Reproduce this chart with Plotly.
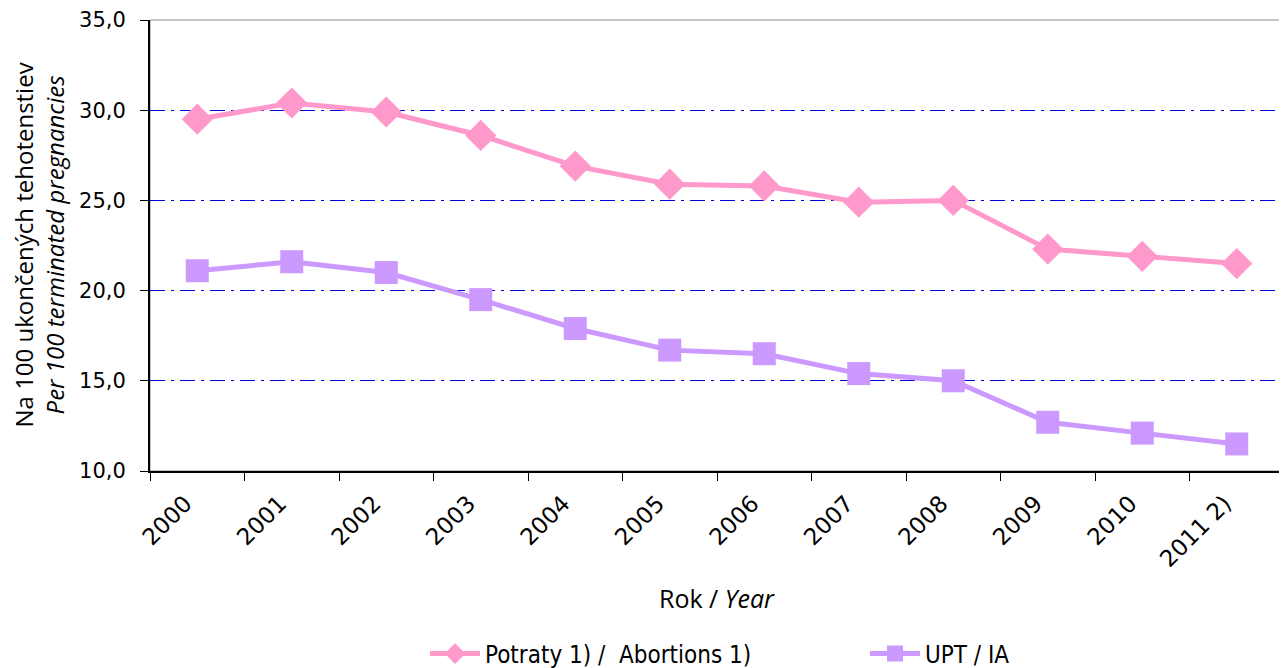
import plotly.graph_objects as go

years = ["2000", "2001", "2002", "2003", "2004", "2005", "2006", "2007", "2008", "2009", "2010", "2011 2)"]
abortions = [29.5, 30.4, 29.9, 28.6, 26.9, 25.9, 25.8, 24.9, 25.0, 22.3, 21.9, 21.5]
upt = [21.1, 21.6, 21.0, 19.5, 17.9, 16.7, 16.5, 15.4, 15.0, 12.7, 12.1, 11.5]
y_ticks = [10, 15, 20, 25, 30, 35]

# page body has an 8px margin: figure coords = screen coords - 8
W, H = 1279, 660
L, R, T, B = 142, 3, 12, 197
pw, ph = W - L - R, H - T - B

fig = go.Figure()
fig.add_trace(go.Scatter(
    x=years, y=abortions, mode="lines+markers", name="Potraty 1) /  Abortions 1)",
    line=dict(color="#FF99CC", width=5),
    marker=dict(symbol="diamond", size=24, color="#FF99CC"),
))
fig.add_trace(go.Scatter(
    x=years, y=upt, mode="lines+markers", name="UPT / IA",
    line=dict(color="#CC99FF", width=5),
    marker=dict(symbol="square", size=23, color="#CC99FF"),
))

fig.add_shape(type="rect", xref="paper", yref="paper", x0=0, x1=1, y0=0, y1=1,
              line=dict(color="#888888", width=1), layer="below")

fig.add_annotation(xref="paper", yref="paper", x=0.5, y=-(590 - (T + ph)) / ph, yanchor="middle",
                   text="Rok / <i>Year</i>", showarrow=False,
                   font=dict(family="Open Sans, sans-serif", size=25, color="black"))
fig.add_annotation(xref="paper", yref="paper", x=-(L - 30) / pw, y=0.5, xanchor="center",
                   text="Na 100 ukončených tehotenstiev<br><i>Per 100 terminated pregnancies</i>",
                   textangle=-90, showarrow=False,
                   font=dict(family="Open Sans, sans-serif", size=24, color="black"))

fig.update_layout(
    width=W, height=H,
    margin=dict(l=L, r=R, t=T, b=B, autoexpand=False),
    plot_bgcolor="white", paper_bgcolor="white",
    separators=", ",
    font=dict(family="DejaVu Sans, sans-serif", size=18, color="black"),
    showlegend=True,
    legend=dict(orientation="h", x=(417 - L) / pw, xanchor="left", y=-(646 - (T + ph)) / ph, yanchor="middle",
                font=dict(family="DejaVu Sans Condensed, Liberation Sans Narrow, sans-serif", size=24),
                itemwidth=50, tracegroupgap=0, entrywidthmode="pixels", entrywidth=375),
    xaxis=dict(
        type="category", tickson="boundaries", ticks="outside", ticklen=8,
        tickcolor="black", showline=True, linecolor="black", linewidth=2,
        tickangle=-45, showgrid=False, automargin=False,
        ticklabelshift=-12, ticklabelstandoff=8,
        tickfont=dict(family="DejaVu Sans, sans-serif", size=23),
        range=[-0.5, 11.5],
    ),
    yaxis=dict(
        range=[10, 35], tickvals=y_ticks, tickformat=".1f",
        ticks="outside", ticklen=8, tickcolor="black", automargin=False,
        ticklabelstandoff=10,
        showline=True, linecolor="black", linewidth=2,
        showgrid=True, gridcolor="#0000DD", gridwidth=1, griddash="longdashdot",
        tickfont=dict(family="DejaVu Sans, sans-serif", size=21),
        zeroline=False,
    ),
)

fig.write_html("out.html")
